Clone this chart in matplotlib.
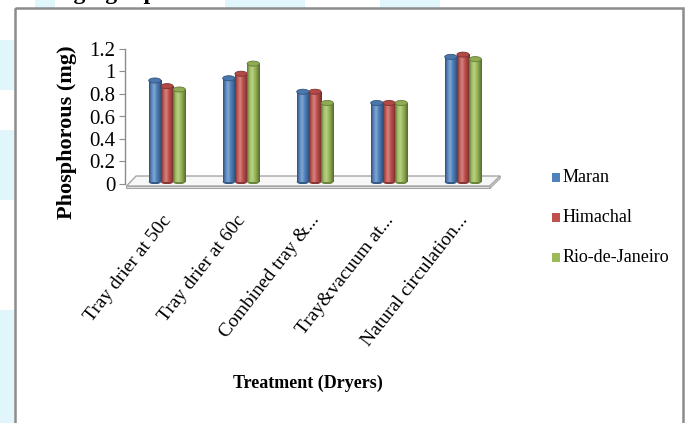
import matplotlib.pyplot as plt
import numpy as np
from matplotlib.colors import LinearSegmentedColormap, to_rgb
from matplotlib.patches import Ellipse, Polygon, Rectangle

# phosphorous content by dryer type
dryers = ['Tray drier at 50c', 'Tray drier at 60c', 'Combined tray &...',
          'Tray&vacuum at...', 'Natural circulation...']
maran = [0.92, 0.94, 0.82, 0.72, 1.13]
himachal = [0.87, 0.98, 0.82, 0.72, 1.15]
rio = [0.84, 1.07, 0.72, 0.72, 1.11]
series = ['Maran', 'Himachal', 'Rio-de-Janeiro']
colors = ['#4F81BD', '#C0504D', '#9BBB59']

W, H = 686, 423
fig = plt.figure(figsize=(W / 100, H / 100), dpi=100)
fig.patch.set_facecolor('white')

# light cyan page background bits around the chart frame
bg = fig.add_axes([0, 0, 1, 1])
bg.set_xlim(0, W)
bg.set_ylim(H, 0)
bg.axis('off')
for (x, y, w, h) in [(0, 40, 14, 50), (0, 130, 14, 70), (0, 310, 14, 113),
                     (35, 0, 20, 8), (225, 0, 80, 8), (380, 0, 60, 8)]:
    bg.add_patch(Rectangle((x, y), w, h, color='#e0f6fb', lw=0))
bg.add_patch(Rectangle((15, 8), 668, 430, fill=False, ec='#8c8c8c', lw=1.8))
bg.text(48, -0.5, 'of ginger powder', family='Liberation Serif', weight='bold',
        fontsize=17, va='baseline', ha='left')

ax = fig.add_axes([125 / W, (H - 184) / H, 370 / W, 135 / H])
ax.set_xlim(-0.5, 4.5)
ax.set_ylim(0, 1.2)
ax.patch.set_alpha(0)

# floor slab under the bars
ax.add_patch(Polygon([(-0.35, 0.071), (4.57, 0.071), (4.43, -0.018), (-0.48, -0.018)],
                     closed=True, fc='#f7f7f7', ec='#a6a6a6', lw=1.0, clip_on=False, zorder=1))
ax.add_patch(Polygon([(-0.48, -0.018), (4.43, -0.018), (4.43, -0.04), (-0.48, -0.04)],
                     closed=True, fc='#e6e6e6', ec='#a6a6a6', lw=0.8, clip_on=False, zorder=1))
ax.add_patch(Polygon([(4.43, -0.018), (4.57, 0.071), (4.57, 0.05), (4.43, -0.04)],
                     closed=True, fc='#dddddd', ec='#a6a6a6', lw=0.8, clip_on=False, zorder=1))


def shade(c, f):
    r = np.array(to_rgb(c))
    if f < 1:
        return tuple(r * f)
    return tuple(r + (1 - r) * (f - 1))


bw = 0.165
dx = 0.068   # depth offset of the 3-D bars
base = 0.02
cap = 0.045
grad = np.linspace(0, 1, 64).reshape(1, -1)
for k, (vals, c) in enumerate(zip([maran, himachal, rio], colors)):
    cmap = LinearSegmentedColormap.from_list(
        'cyl%d' % k,
        [shade(c, 0.6), shade(c, 1.05), shade(c, 1.3), shade(c, 1.0), shade(c, 0.8), shade(c, 0.55)])
    for i, v in enumerate(vals):
        xc = i + dx + (k - 1) * bw
        x0 = xc - bw / 2
        z = 3 + k
        ax.add_patch(Ellipse((xc, base), bw, cap, fc=shade(c, 0.7), ec='none', zorder=z))
        ax.imshow(grad, cmap=cmap, extent=[x0, x0 + bw, base, v], aspect='auto',
                  zorder=z, interpolation='bilinear')
        ax.add_patch(Ellipse((xc, v), bw, cap, fc=shade(c, 0.92), ec=shade(c, 0.65),
                             lw=0.6, zorder=z + 0.1))

ax.set_xlim(-0.5, 4.5)
ax.set_ylim(0, 1.2)

for s in ['top', 'right', 'bottom']:
    ax.spines[s].set_visible(False)
ax.spines['left'].set_color('#8c8c8c')
ax.spines['left'].set_linewidth(1.0)
ax.tick_params(axis='y', length=4, color='#8c8c8c', pad=3)
ax.set_yticks(np.arange(0, 1.21, 0.2))
ax.set_yticklabels(['0', '0.2', '0.4', '0.6', '0.8', '1', '1.2'],
                   family='Liberation Serif', fontsize=15)
ax.set_xticks(range(len(dryers)))
ax.set_xticklabels(dryers, rotation=52, ha='right', rotation_mode='anchor',
                   family='Liberation Serif', fontsize=14)
ax.tick_params(axis='x', length=0, pad=20)

ax.set_ylabel('Phosphorous (mg)', family='Liberation Serif', weight='bold', fontsize=16)
ax.yaxis.set_label_coords(-0.13, 0.385)
fig.text(308 / W, 1 - 383 / H, 'Treatment (Dryers)', family='Liberation Serif',
         weight='bold', fontsize=13, ha='center', va='center')

# legend
for k, name in enumerate(series):
    y = 178 + k * 40
    bg.add_patch(Rectangle((552, y - 4.5), 8, 9, color=colors[k], lw=0))
    bg.text(563, y, name, family='Liberation Serif', fontsize=13, va='center', ha='left')

fig.savefig('out.png', dpi=100)
